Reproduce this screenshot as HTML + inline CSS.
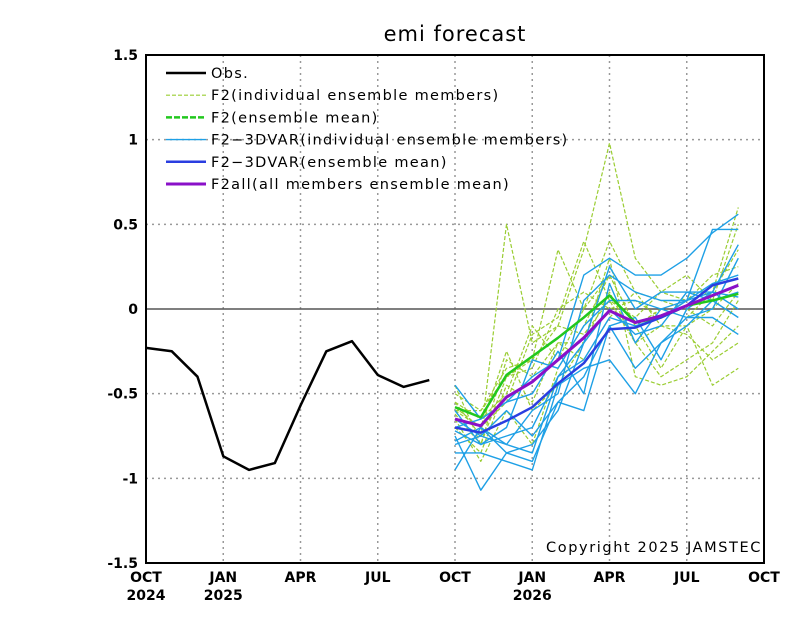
<!DOCTYPE html>
<html><head><meta charset="utf-8"><style>
body{margin:0;background:#fff}
svg{display:block;font-family:"DejaVu Sans","Liberation Sans",sans-serif}
</style></head><body>
<svg id="c" width="800" height="618" viewBox="0 0 800 618">
<text x="455" y="41" font-size="21" text-anchor="middle" letter-spacing="1">emi forecast</text>
<g id="grid"></g>
<g id="series"></g>
<rect x="146" y="55" width="618" height="508" fill="none" stroke="#000" stroke-width="2"/>
<g id="axes" font-size="14" font-weight="bold"></g>
<g id="legend" font-size="14.5" letter-spacing="1.3"></g>
<text x="762" y="552" font-size="14.5" text-anchor="end" letter-spacing="1.6">Copyright 2025 JAMSTEC</text>
</svg>
<script>
const yTicks=[1.5,1,0.5,0,-0.5,-1,-1.5];
const yTickLabels=["1.5","1","0.5","0","-0.5","-1","-1.5"];
const xTickMonths=[0,3,6,9,12,15,18,21,24];
const xTickLabels=["OCT","JAN","APR","JUL","OCT","JAN","APR","JUL","OCT"];
const xYearLabels=["2024","2025","","","","2026","","",""];
const obsMonths=[0,1,2,3,4,5,6,7,8,9,10,11];
const obs=[-0.23,-0.25,-0.40,-0.87,-0.95,-0.91,-0.57,-0.25,-0.19,-0.39,-0.46,-0.42];
const fcMonths=[12,13,14,15,16,17,18,19,20,21,22,23];
const f2Members=[
[-0.55,-0.75,0.50,-0.20,-0.10,0.35,0.98,0.30,0.10,0.05,0.10,0.60],
[-0.45,-0.80,-0.40,-0.30,0.35,0.00,0.40,0.10,-0.10,-0.10,-0.45,-0.35],
[-0.60,-0.70,-0.55,-0.15,-0.05,0.40,0.05,-0.05,0.10,0.20,0.05,0.50],
[-0.65,-0.90,-0.60,-0.80,-0.35,-0.10,0.20,-0.10,-0.35,-0.10,0.00,0.15],
[-0.60,-0.60,-0.35,-0.30,-0.10,-0.15,0.05,-0.20,-0.40,-0.30,-0.20,0.05],
[-0.70,-0.85,-0.45,-0.55,-0.20,-0.20,0.30,-0.40,-0.45,-0.40,-0.25,-0.10],
[-0.55,-0.65,-0.50,-0.10,-0.30,0.00,0.20,-0.10,0.00,-0.05,0.10,0.35],
[-0.62,-0.80,-0.30,-0.40,-0.20,-0.30,-0.05,0.10,0.05,0.00,-0.10,0.10],
[-0.58,-0.70,-0.25,-0.60,-0.45,-0.20,0.10,-0.20,-0.10,-0.15,-0.30,-0.20],
[-0.50,-0.60,-0.40,-0.35,0.00,0.10,0.00,0.05,-0.05,0.05,0.20,0.25]];
const dvarMembers=[
[-0.70,-0.65,-0.55,-0.40,-0.30,0.20,0.30,0.20,0.20,0.30,0.45,0.56],
[-0.80,-0.75,-0.80,-0.60,-0.50,0.05,0.20,0.10,0.05,0.05,0.47,0.47],
[-0.95,-0.70,-0.80,-0.85,-0.40,-0.20,0.25,0.00,0.10,0.10,0.10,0.38],
[-0.75,-1.07,-0.85,-0.90,-0.55,-0.60,-0.10,-0.05,-0.30,0.00,0.10,0.07],
[-0.85,-0.85,-0.90,-0.95,-0.45,-0.35,-0.30,-0.50,-0.20,-0.05,0.00,0.30],
[-0.65,-0.75,-0.60,-0.75,-0.55,-0.40,-0.10,-0.35,-0.20,-0.10,0.05,-0.05],
[-0.60,-0.80,-0.70,-0.30,-0.35,-0.10,0.05,0.05,0.00,0.05,0.10,0.00],
[-0.45,-0.65,-0.55,-0.50,-0.25,-0.50,0.15,-0.20,0.00,-0.05,-0.05,-0.15],
[-0.72,-0.80,-0.75,-0.70,-0.40,-0.30,-0.05,-0.10,-0.05,0.05,0.15,0.20],
[-0.78,-0.70,-0.85,-0.80,-0.60,-0.20,0.00,-0.15,-0.10,0.10,0.05,0.10]];
const f2Mean=[-0.58,-0.64,-0.39,-0.28,-0.17,-0.05,0.08,-0.08,-0.05,0.02,0.05,0.09];
const dvarMean=[-0.70,-0.73,-0.66,-0.58,-0.44,-0.32,-0.12,-0.11,-0.05,0.02,0.14,0.18];
const allMean=[-0.65,-0.69,-0.52,-0.43,-0.30,-0.17,-0.01,-0.08,-0.04,0.02,0.08,0.14];

const NS="http://www.w3.org/2000/svg";
const X=m=>146+m*(618/24);
const Y=v=>309-v*(508/3);
function mk(tag,attrs,parent){const e=document.createElementNS(NS,tag);for(const k in attrs)e.setAttribute(k,attrs[k]);parent.appendChild(e);return e;}
const grid=document.getElementById('grid'),ser=document.getElementById('series'),ax=document.getElementById('axes'),lg=document.getElementById('legend');
yTicks.forEach((v,i)=>{
  if(v!==0&&Math.abs(v)!==1.5){const l=mk('line',{x1:146,x2:764,y1:Y(v),y2:Y(v),stroke:'#999','stroke-width':1.5,'stroke-dasharray':'2,4'},grid);
  
  }
  const t=mk('text',{x:138,y:Y(v)+5,'text-anchor':'end'},ax);t.textContent=yTickLabels[i];
  
  
});
xTickMonths.forEach((m,i)=>{
  if(m>0&&m<24){const l=mk('line',{x1:X(m),x2:X(m),y1:55,y2:563,stroke:'#999','stroke-width':1.5,'stroke-dasharray':'2,4'},grid);
  
  }
  const t=mk('text',{x:X(m),y:582,'text-anchor':'middle'},ax);t.textContent=xTickLabels[i];
  
  
  if(xYearLabels[i]){const t2=mk('text',{x:X(m),y:600,'text-anchor':'middle'},ax);t2.textContent=xYearLabels[i];
  
  }
});
const z=mk('line',{x1:146,x2:764,y1:Y(0),y2:Y(0),stroke:'#555','stroke-width':1.5},grid);


function pts(ms,vs){return vs.map((v,i)=>X(ms[i]).toFixed(1)+','+Y(v).toFixed(1)).join(' ');}
function line(ms,vs,stroke,w,dash,name){const p=mk('polyline',{points:pts(ms,vs),fill:'none',stroke:stroke,'stroke-width':w,'stroke-linejoin':'round'},ser);if(dash)p.setAttribute('stroke-dasharray',dash);
  
  }
f2Members.forEach(s=>line(fcMonths,s,'#9acd32',1.2,'4,2','f2-member-line'));
dvarMembers.forEach(s=>line(fcMonths,s,'#1ea0e6',1.4,null,'f2-3dvar-member-line'));
line(fcMonths,f2Mean,'#22c81e',2.5,null,'f2-mean-line');
line(fcMonths,dvarMean,'#2a3ee0',2.5,null,'f2-3dvar-mean-line');
line(fcMonths,allMean,'#8a10c8',3,null,'f2all-mean-line');
line(obsMonths,obs,'#000',2.5,null,'obs-line');
const legItems=[["Obs.","#000",2.5,null],["F2(individual ensemble members)","#9acd32",1.2,"4,2"],["F2(ensemble mean)","#22c81e",2.5,"6,2"],["F2\u22123DVAR(individual ensemble members)","#1ea0e6",1.4,null],["F2\u22123DVAR(ensemble mean)","#2a3ee0",2.5,null],["F2all(all members ensemble mean)","#8a10c8",3,null]];
legItems.forEach((it,i)=>{const y=73+i*22.2;
  const g=mk('g',{},lg);
  
  
  const l=mk('line',{x1:166,x2:206,y1:y,y2:y,stroke:it[1],'stroke-width':it[2]},g);if(it[3])l.setAttribute('stroke-dasharray',it[3]);
  const t=mk('text',{x:211,y:y+5},g);t.textContent=it[0];});
</script>
</body></html>
